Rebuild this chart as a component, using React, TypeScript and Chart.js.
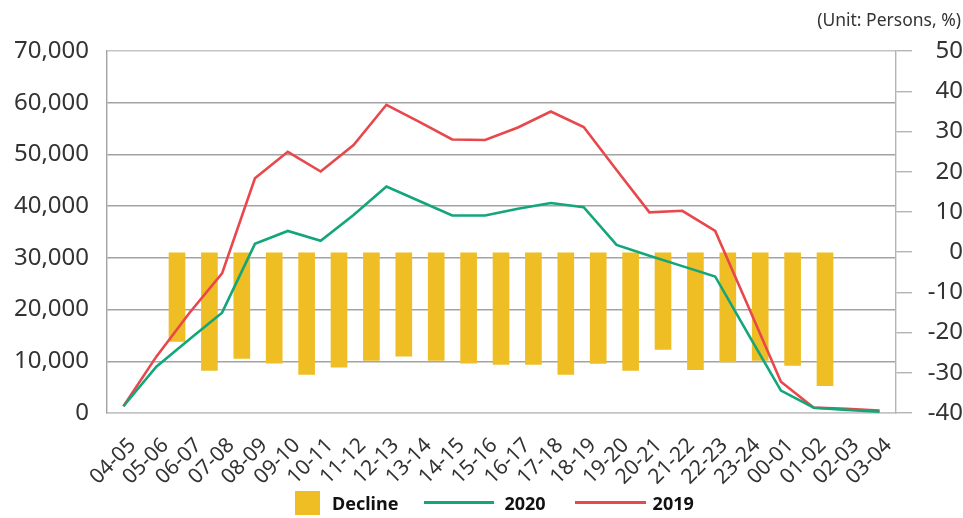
import React, { useEffect, useRef } from "react";
import { Chart, registerables } from "chart.js";

Chart.register(...registerables);

const categories = [
  "04-05", "05-06", "06-07", "07-08", "08-09", "09-10", "10-11", "11-12",
  "12-13", "13-14", "14-15", "15-16", "16-17", "17-18", "18-19", "19-20",
  "20-21", "21-22", "22-23", "23-24", "00-01", "01-02", "02-03", "03-04",
];

const pax2019 = [
  1300, 10900, 19300, 27000, 45400, 50500, 46700, 51800, 59600, 56300, 52900, 52800,
  55200, 58300, 55300, 47000, 38800, 39100, 35200, 20700, 6050, 1030, 800, 450,
];

const pax2020 = [
  1300, 8950, 14200, 19400, 32700, 35200, 33300, 38300, 43800, 41000, 38200, 38200,
  39500, 40600, 39800, 32500, 30400, 28400, 26400, 15300, 4330, 1030, 600, 250,
];

const declineCategories = [
  "05-06", "06-07", "07-08", "08-09", "09-10", "10-11", "11-12", "12-13", "13-14",
  "14-15", "15-16", "16-17", "17-18", "18-19", "19-20", "20-21", "21-22", "22-23",
  "23-24", "00-01", "01-02",
];

const declinePct = [
  -22.2, -29.4, -26.4, -27.6, -30.4, -28.6, -26.9, -25.9, -26.9, -27.6, -27.9,
  -27.9, -30.4, -27.7, -29.4, -24.2, -29.2, -27.3, -26.9, -28.2, -33.2,
];

const leftTicks = { min: 0, max: 70000, step: 10000 };
const rightTicks = { min: -40, max: 50, step: 10 };

const YELLOW = "#EEBE24";
const GREEN = "#12A67A";
const RED = "#E8474B";
const FONT = "'Noto Sans', 'Open Sans', sans-serif";
const TEXT = "#333333";

export default function App() {
  const ref = useRef<HTMLCanvasElement | null>(null);

  useEffect(() => {
    const canvas = ref.current;
    if (!canvas) return;
    const chart = new Chart(canvas, {
      type: "bar",
      data: {
        labels: categories,
        datasets: [
          {
            type: "line",
            label: "2020",
            data: pax2020,
            xAxisID: "x",
            yAxisID: "y",
            borderColor: GREEN,
            backgroundColor: GREEN,
            borderWidth: 2.6,
            pointRadius: 0,
            tension: 0,
            order: 0,
          } as any,
          {
            type: "line",
            label: "2019",
            data: pax2019,
            xAxisID: "x",
            yAxisID: "y",
            borderColor: RED,
            backgroundColor: RED,
            borderWidth: 2.6,
            pointRadius: 0,
            tension: 0,
            order: 1,
          } as any,
          {
            type: "bar",
            label: "Decline",
            data: declinePct.map((v, j) => ({ x: categories.indexOf(declineCategories[j]), y: v })),
            xAxisID: "x2",
            yAxisID: "y2",
            backgroundColor: YELLOW,
            borderWidth: 0,
            barThickness: 16,
            order: 2,
          } as any,
        ],
      },
      options: {
        responsive: false,
        animation: false,
        devicePixelRatio: 1,
        layout: { padding: { top: 51, left: 0, right: 0, bottom: 0 } },
        plugins: {
          legend: { display: false },
          tooltip: { enabled: false },
          title: { display: false },
        },
        scales: {
          x: {
            type: "category",
            offset: true,
            grid: { display: false, drawTicks: false },
            border: { display: true, color: "#c4c4c4", width: 1.6 },
            ticks: {
              autoSkip: false,
              minRotation: 45,
              maxRotation: 45,
              labelOffset: 9,
              padding: 20,
              color: TEXT,
              font: { family: FONT, size: 21 },
            },
            afterFit: (s: any) => {
              s.height = 105;
            },
          },
          x2: {
            type: "linear",
            display: false,
            min: -0.914,
            max: 23.438,
            offset: false,
          },
          y: {
            position: "left",
            min: leftTicks.min,
            max: leftTicks.max,
            ticks: {
              stepSize: leftTicks.step,
              padding: 18,
              color: TEXT,
              font: { family: FONT, size: 24 },
              callback: (v: any) => Number(v).toLocaleString("en-US"),
            },
            grid: {
              drawTicks: false,
              lineWidth: 1.4,
              color: (ctx: any) =>
                ctx.tick && (ctx.tick.value === 0 || ctx.tick.value === 70000) ? "#c4c4c4" : "#a3a3a3",
            },
            border: { display: true, color: "#a3a3a3", width: 1.4 },
            afterFit: (s: any) => {
              s.width = 107;
            },
          },
          y2: {
            position: "right",
            min: rightTicks.min,
            max: rightTicks.max,
            ticks: {
              stepSize: rightTicks.step,
              padding: 9,
              crossAlign: "far",
              color: TEXT,
              font: { family: FONT, size: 24 },
            },
            grid: {
              drawOnChartArea: false,
              drawTicks: true,
              tickLength: 16,
              color: "#b4b4b4",
              lineWidth: 1.4,
            },
            border: { display: true, color: "#b4b4b4", width: 1.4 },
            afterFit: (s: any) => {
              s.width = 67;
            },
          },
        },
      } as any,
    });
    return () => chart.destroy();
  }, []);

  const legendText: React.CSSProperties = {
    fontFamily: FONT,
    fontWeight: 700,
    fontSize: 18,
    color: "#111",
    lineHeight: "24px",
  };

  return (
    <div style={{ position: "fixed", left: 0, top: 0, width: 963, height: 518, background: "#fff" }}>
      <canvas ref={ref} width={963} height={518} style={{ display: "block", width: 963, height: 518 }} />
      <div
        style={{
          position: "absolute",
          right: 2,
          top: 7,
          fontFamily: FONT,
          fontSize: 17.5,
          color: TEXT,
          whiteSpace: "nowrap",
        }}
      >
        (Unit: Persons, %)
      </div>
      <div
        style={{
          position: "absolute",
          left: 295,
          top: 490,
          display: "flex",
          alignItems: "center",
          height: 25,
          whiteSpace: "nowrap",
        }}
      >
        <span style={{ display: "inline-block", width: 25, height: 24, background: YELLOW }} />
        <span style={{ ...legendText, marginLeft: 12 }}>Decline</span>
        <span style={{ display: "inline-block", width: 70, height: 3, background: GREEN, marginLeft: 26 }} />
        <span style={{ ...legendText, marginLeft: 10 }}>2020</span>
        <span style={{ display: "inline-block", width: 71, height: 3, background: RED, marginLeft: 29 }} />
        <span style={{ ...legendText, marginLeft: 7 }}>2019</span>
      </div>
    </div>
  );
}
